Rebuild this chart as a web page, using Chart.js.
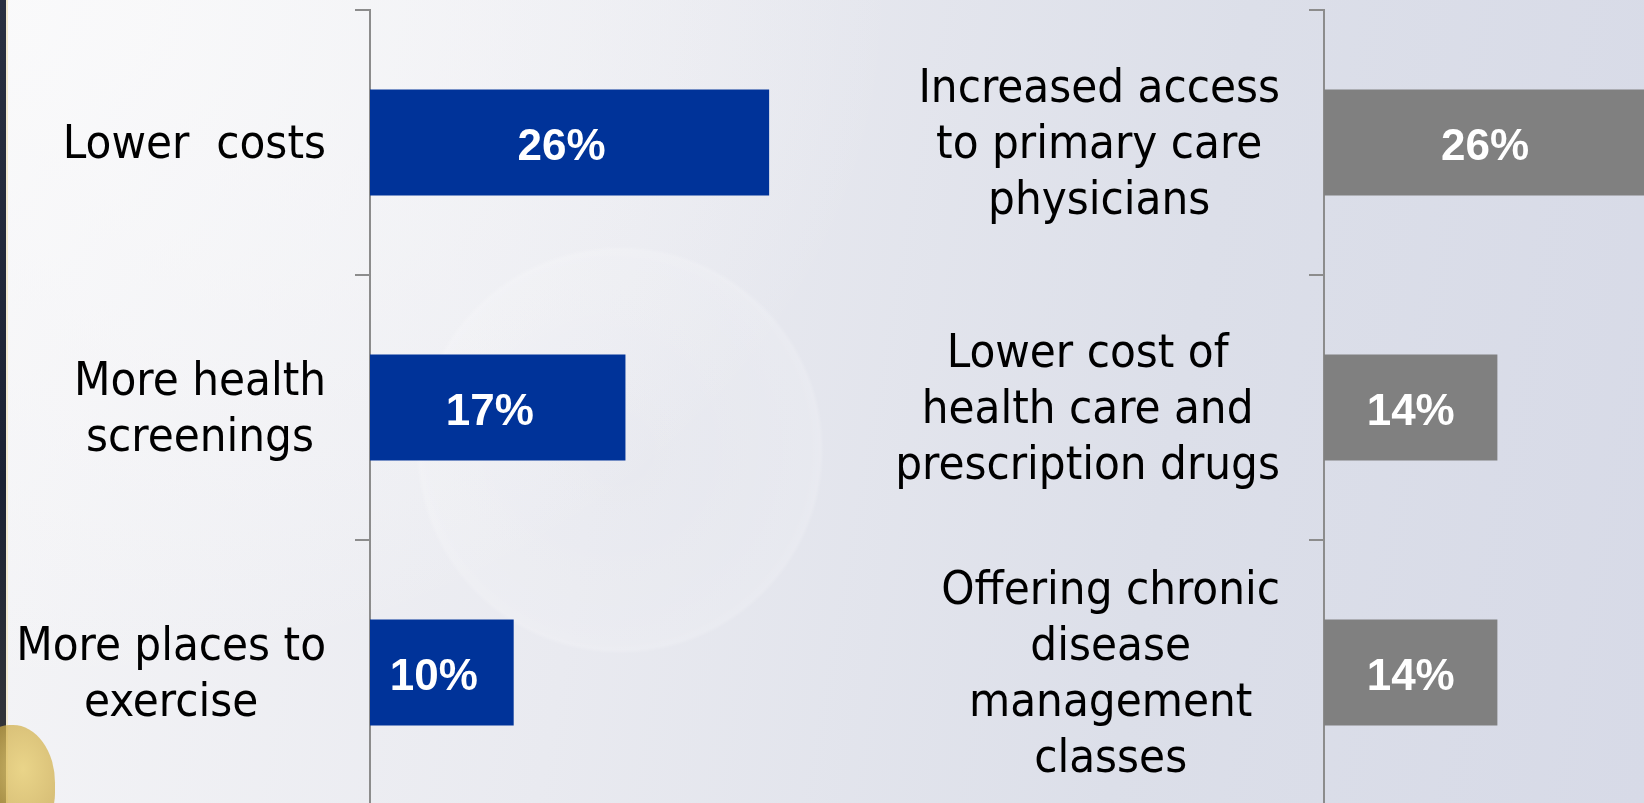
<!DOCTYPE html>
<html>
<head>
<meta charset="utf-8">
<script src="https://cdn.jsdelivr.net/npm/chart.js@4.4.1/dist/chart.umd.min.js"></script>
<style>
  html, body {
    margin: 0;
    padding: 0;
    width: 1644px;
    height: 803px;
    overflow: hidden;
  }
  body {
    position: relative;
    background:
      radial-gradient(circle at 620px 450px, rgba(255,255,255,0) 0, rgba(255,255,255,0.12) 190px, rgba(255,255,255,0.18) 200px, rgba(255,255,255,0) 204px),
      radial-gradient(ellipse 900px 700px at 0px 0px, rgba(250,250,251,0.9), rgba(250,250,251,0)),
      linear-gradient(100deg, #f5f5f7 0%, #e9eaf0 38%, #dcdfe9 70%, #d7dae7 100%);
  }
  .strip {
    position: absolute; left: 0; top: 0; width: 6px; height: 803px;
    background: linear-gradient(180deg, #2a3040, #1c2233 60%, #3a3a3a);
    border-right: 2px solid #f3ead0;
  }
  .logo {
    position: absolute; left: -25px; top: 725px; width: 80px; height: 110px;
    border-radius: 45% 55% 40% 60%;
    background: radial-gradient(ellipse at 60% 40%, rgba(232,207,118,0.85), rgba(201,165,62,0.7) 65%, rgba(201,165,62,0));
  }
  .wrap { position: absolute; top: 0; }
</style>
</head>
<body>
<div class="strip"></div>
<div class="logo"></div>
<div class="wrap" style="left:0px"><canvas id="left" width="833" height="810"></canvas></div>
<div class="wrap" style="left:840px"><canvas id="right" width="806" height="810"></canvas></div>
<script>
// left panel
const leftLabels = [["Lower  costs"], ["More health", "screenings"], ["More places to", "exercise"]];
const leftValues = [26, 17, 10];

// right panel
const rightLabels = [
  ["Increased access", "to primary care", "physicians"],
  ["Lower cost of", "health care and", "prescription drugs"],
  ["Offering chronic", "disease", "management", "classes"],
];
const rightValues = [26, 14, 14];

const labelFont = '47px "DejaVu Sans Condensed", "DejaVu Sans", sans-serif';
const valueFont = { family: '"Liberation Sans", Arial, sans-serif', size: 44, weight: "bold" };
const axisGray = "#8c8c8c";

// category labels: block sits right of the axis gap, lines centered inside the block
const blockLabels = {
  id: "blockLabels",
  afterDraw(chart) {
    const ctx = chart.ctx;
    const yScale = chart.scales.y;
    const rightEdge = chart.chartArea.left - 44;
    const lineHeight = 56;
    ctx.save();
    ctx.font = labelFont;
    ctx.fillStyle = "#000";
    ctx.textAlign = "center";
    ctx.textBaseline = "middle";
    chart.data.labels.forEach((lines, i) => {
      const yc = yScale.getPixelForValue(i) + 3;
      const w = Math.max(...lines.map((l) => ctx.measureText(l).width));
      const cx = rightEdge - w / 2;
      const y0 = yc - ((lines.length - 1) * lineHeight) / 2;
      lines.forEach((l, j) => ctx.fillText(l, cx, y0 + j * lineHeight));
    });
    ctx.restore();
  },
};

// value labels in the middle of each bar
const barValues = {
  id: "barValues",
  afterDatasetsDraw(chart) {
    const ctx = chart.ctx;
    const meta = chart.getDatasetMeta(0);
    ctx.save();
    ctx.font = `${valueFont.weight} ${valueFont.size}px ${valueFont.family}`;
    ctx.fillStyle = "#fff";
    ctx.textAlign = "center";
    ctx.textBaseline = "middle";
    meta.data.forEach((bar, i) => {
      const v = chart.data.datasets[0].data[i];
      ctx.fillText(`${v}%`, (bar.x + bar.base) / 2, bar.y + 5);
    });
    ctx.restore();
  },
};

function makeChart(id, labels, values, color, xMin, xMax, padLeft) {
  return new Chart(document.getElementById(id), {
    type: "bar",
    data: {
      labels: labels,
      datasets: [
        {
          data: values,
          backgroundColor: color,
          borderWidth: 0,
          categoryPercentage: 1,
          barPercentage: 0.4,
        },
      ],
    },
    options: {
      indexAxis: "y",
      responsive: false,
      animation: false,
      events: [],
      layout: { padding: { left: padLeft, top: 10, bottom: 5, right: 0 } },
      plugins: {
        legend: { display: false },
        tooltip: { enabled: false },
      },
      scales: {
        x: { display: false, min: xMin, max: xMax },
        y: {
          afterFit: (scale) => {
            scale.width = 15;
          },
          ticks: { display: false },
          grid: {
            offset: true,
            drawOnChartArea: false,
            drawTicks: true,
            tickLength: 15,
            color: axisGray,
            lineWidth: 2,
          },
          border: { display: true, color: axisGray, width: 2 },
        },
      },
    },
    plugins: [blockLabels, barValues],
  });
}

makeChart("left", leftLabels, leftValues, "#003399", 1, 30, 355);
makeChart("right", rightLabels, rightValues, "#808080", 0, 26, 469);
</script>
</body>
</html>
